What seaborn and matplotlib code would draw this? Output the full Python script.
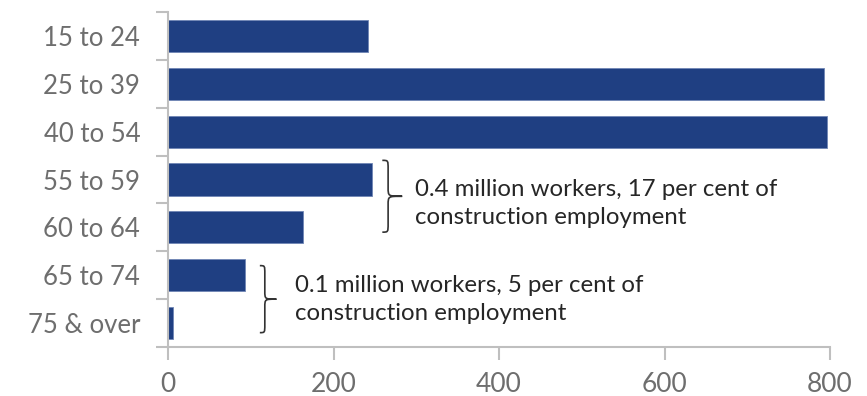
import matplotlib
matplotlib.use("Agg")
import matplotlib.pyplot as plt
from matplotlib.path import Path
from matplotlib.patches import PathPatch
from matplotlib.ticker import FixedLocator
import seaborn as sns
import pandas as pd

# Construction employment by age group (thousands of workers)
age_groups = ["15 to 24", "25 to 39", "40 to 54", "55 to 59", "60 to 64", "65 to 74", "75 & over"]
workers = [242, 793, 796, 247, 163, 93, 6]
x_ticks = [0, 200, 400, 600, 800]

note_older = "0.4 million workers, 17 per cent of\nconstruction employment"
note_oldest = "0.1 million workers, 5 per cent of\nconstruction employment"

sns.set_theme(style="white")
plt.rcParams["font.family"] = ["Lato", "DejaVu Sans"]

bar_color = "#1f3f82"
axis_color = "#bfbfbf"
label_color = "#6e6e6e"
text_color = "#262626"

df = pd.DataFrame({"age": age_groups, "workers": workers})

fig = plt.figure(figsize=(8.67, 3.96), dpi=100)
ax = fig.add_axes([168 / 867, (396 - 347) / 396, (830 - 168) / 867, (347 - 12) / 396])

sns.barplot(data=df, x="workers", y="age", orient="h", color=bar_color,
            saturation=1, width=0.67, edgecolor="#6f86b5", linewidth=0.6, ax=ax)

ax.set_xlim(0, 800)
ax.set_ylim(len(age_groups) - 0.5, -0.5)
ax.set_xticks(x_ticks)
ax.set_xticklabels([str(t) for t in x_ticks])
ax.set_xlabel("")
ax.set_ylabel("")

# category ticks sit on the boundaries between groups
ax.yaxis.set_minor_locator(FixedLocator([i - 0.5 for i in range(len(age_groups) + 1)]))
ax.tick_params(axis="y", which="major", length=0, pad=20, labelsize=18.5, labelcolor=label_color)
ax.tick_params(axis="y", which="minor", length=9, width=1.5, color=axis_color, left=True)
ax.tick_params(axis="x", which="major", length=9, width=1.5, color=axis_color, bottom=True,
               pad=9, labelsize=19, labelcolor=label_color)

for side in ["top", "right"]:
    ax.spines[side].set_visible(False)
for side in ["left", "bottom"]:
    ax.spines[side].set_color(axis_color)
    ax.spines[side].set_linewidth(1.5)


def brace(ax, x0, x1, x2, yt, yb):
    ym = (yt + yb) / 2
    d = (yb - yt) * 0.12
    verts = [
        (x0, yt), (x1, yt), (x1, yt), (x1, yt + d),
        (x1, ym - d),
        (x1, ym), (x1, ym), (x2, ym),
        (x1, ym), (x1, ym), (x1, ym + d),
        (x1, yb - d),
        (x1, yb), (x1, yb), (x0, yb),
    ]
    codes = [Path.MOVETO, Path.CURVE4, Path.CURVE4, Path.CURVE4,
             Path.LINETO,
             Path.CURVE4, Path.CURVE4, Path.CURVE4,
             Path.CURVE4, Path.CURVE4, Path.CURVE4,
             Path.LINETO,
             Path.CURVE4, Path.CURVE4, Path.CURVE4]
    ax.add_patch(PathPatch(Path(verts, codes), fill=False, edgecolor="#333333",
                           linewidth=1.2, clip_on=False))


brace(ax, 259, 266, 283, 2.6, 4.1)
ax.text(298, 3.5, note_older, ha="left", va="center", fontsize=17.3,
        color=text_color, linespacing=1.4)

brace(ax, 111, 117, 131, 4.8, 6.2)
ax.text(153, 5.5, note_oldest, ha="left", va="center", fontsize=17.3,
        color=text_color, linespacing=1.4)

fig.savefig("out.png", dpi=100)
